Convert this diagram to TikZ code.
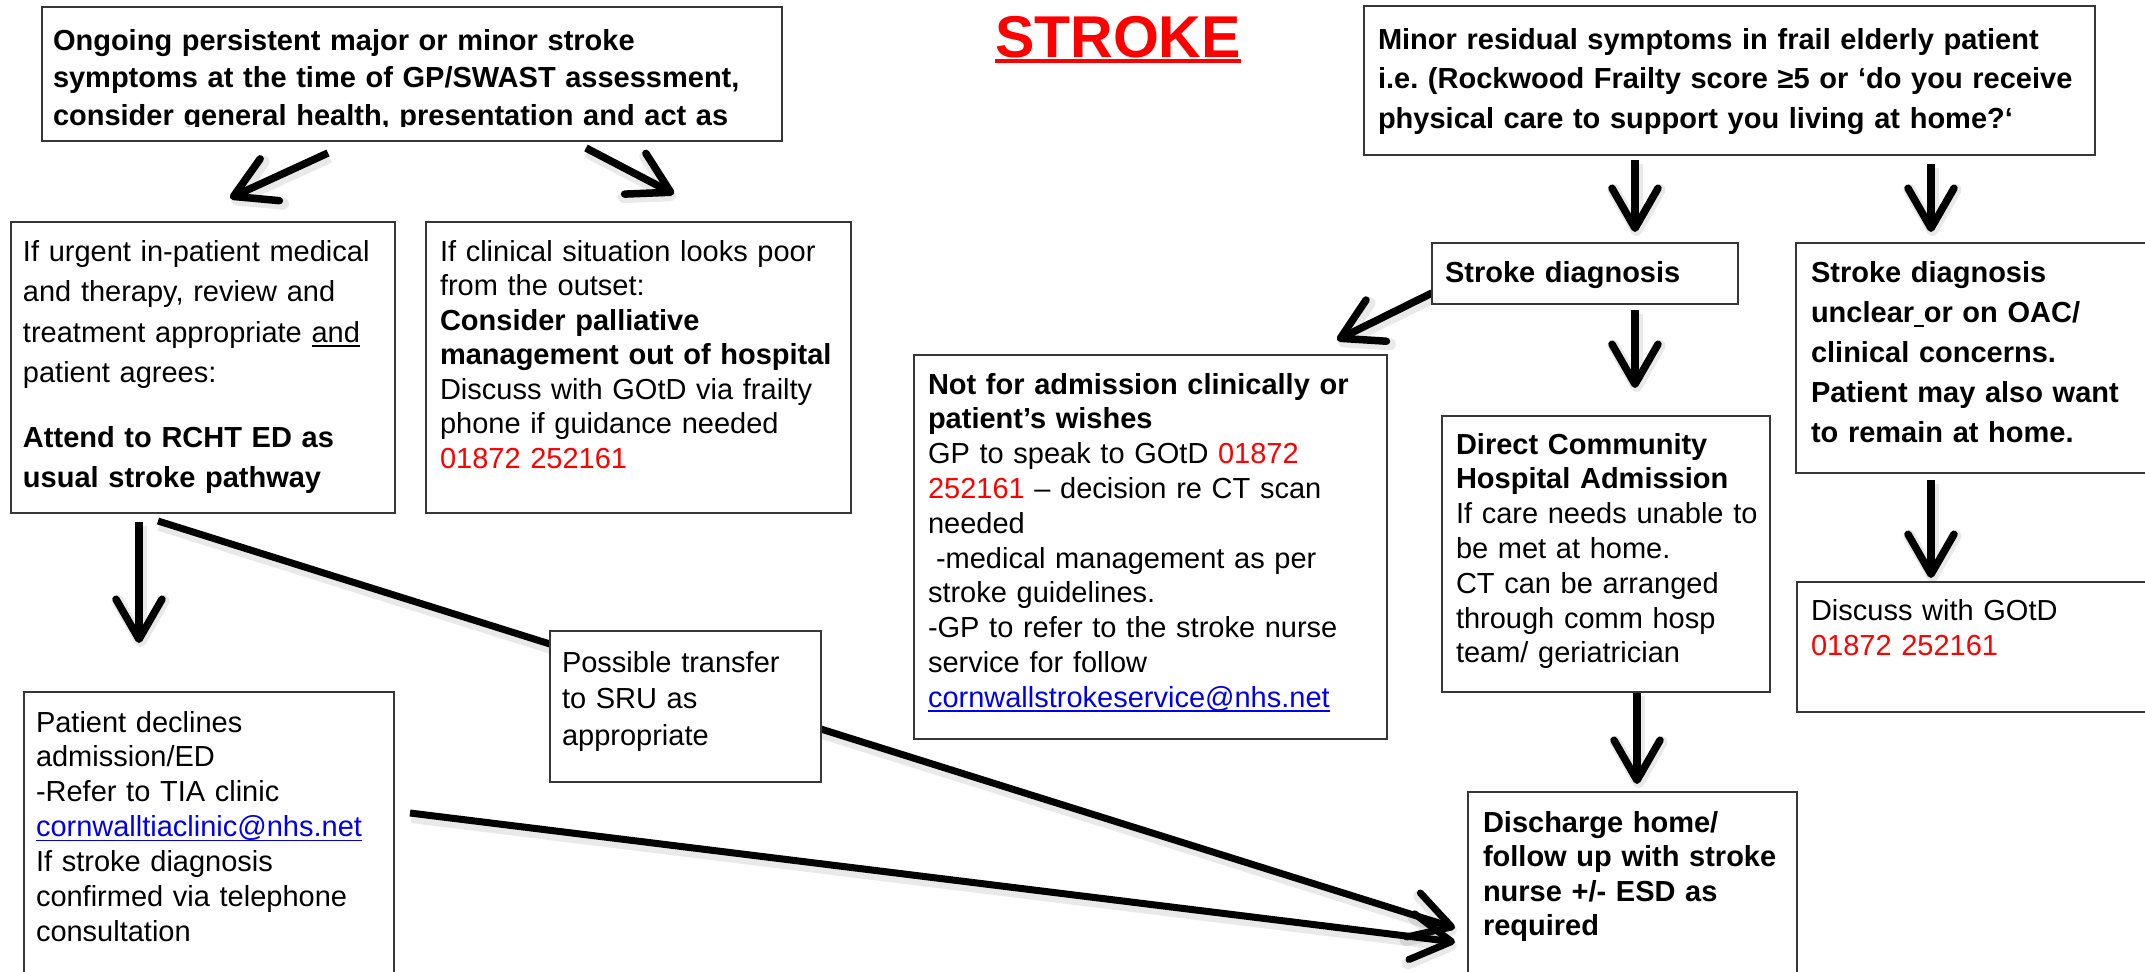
\documentclass[tikz,border=0pt]{standalone}
\usepackage{fontspec}
\setmainfont{Liberation Sans}
\usetikzlibrary{arrows.meta,calc}
\definecolor{rred}{RGB}{255,0,0}
\definecolor{lblue}{RGB}{0,0,238}
\definecolor{edgegray}{RGB}{55,55,55}
\frenchspacing
\newsavebox{\ulbox}
\newcommand{\ulx}[3]{\leavevmode\sbox{\ulbox}{#3}\rlap{\rule[-#2]{\wd\ulbox}{#1}}\usebox{\ulbox}}
\newcommand{\rt}[1]{\textcolor{rred}{#1}}
\newcommand{\lnk}[1]{{\color{lblue}\ulx{1.6pt}{4.5pt}{#1}}}
\newcommand{\thinul}[1]{\ulx{1.6pt}{4.5pt}{#1}}
\newcommand{\fsz}[1]{\fontsize{29}{#1}\selectfont}
\pgfdeclarelayer{back}
\pgfsetlayers{back,main}
\begin{document}
\begin{tikzpicture}[x=1pt,y=-1pt,
  box/.style={draw=edgegray, line width=1.6pt, fill=white, inner sep=0pt, outer sep=0pt, anchor=north west},
  txt/.style={anchor=base west, inner sep=0pt, outer sep=0pt, text width=720pt, align=left},
  shad/.style={preaction={draw=black!70, draw opacity=0.12, line width=12pt, transform canvas={shift={(1.5pt,-4pt)}}}},
  arr/.style={shad, line width=7.5pt, -{Straight Barb[length=40pt,width=46pt,round]}},
  arrlong/.style={shad, line width=7pt, -{Straight Barb[length=40pt,width=46pt,round]}}]
\useasboundingbox (0,0) rectangle (2145,972);
\clip (0,0) rectangle (2145,972);
\begin{pgfonlayer}{back}
\fill[white] (0,0) rectangle (2145,972);
\end{pgfonlayer}

% title
\node[anchor=base, inner sep=0pt, text=rred, font=\fontsize{59}{70}\selectfont\bfseries] (title) at (1118,57) {\ulx{4pt}{6pt}{STROKE}};

% boxes
\node[box, minimum width=740pt, minimum height=134pt] (b1) at (42,7) {};
\begin{scope}
\clip (b1.north west) rectangle ($(b1.south east)+(0,-15)$);
\node[txt, font=\fsz{37.5}\bfseries] (b1t) at (53,50) {Ongoing persistent major or minor stroke\\symptoms at the time of GP/SWAST assessment,\\consider general health, presentation and act as};
\end{scope}

\node[box, minimum width=731pt, minimum height=149pt] (tr) at (1364,6) {};
\node[txt, font=\fsz{39.5}\bfseries] (trt) at (1378,49) {Minor residual symptoms in frail elderly patient\\i.e. (Rockwood Frailty score ≥5 or ‘do you receive\\physical care to support you living at home?‘};

\node[box, minimum width=384pt, minimum height=291pt] (l2) at (11,222) {};
\node[txt, font=\fsz{40.5}] (l2t) at (23,261) {If urgent in-patient medical\\and therapy, review and\\treatment appropriate \thinul{and}\\patient agrees:\\[24pt]\textbf{Attend to RCHT ED as}\\\textbf{usual stroke pathway}};

\node[box, minimum width=425pt, minimum height=291pt] (m2) at (426,222) {};
\node[txt, font=\fsz{34.5}] (m2t) at (440,261) {If clinical situation looks poor\\from the outset:\\\textbf{Consider palliative}\\\textbf{management out of hospital}\\Discuss with GOtD via frailty\\phone if guidance needed\\\rt{01872 252161}};

\node[box, minimum width=306pt, minimum height=61pt] (sd) at (1432,243) {};
\node[txt, font=\fsz{35}\bfseries] (sdt) at (1445,282) {Stroke diagnosis};

\node[box, minimum width=380pt, minimum height=230pt] (unc) at (1796,243) {};
\node[txt, font=\fsz{40}\bfseries] (unct) at (1811,282) {Stroke diagnosis\\unclear\thinul{\ }or on OAC/\\clinical concerns.\\Patient may also want\\to remain at home.};

\node[box, minimum width=473pt, minimum height=384pt] (nfa) at (914,355) {};
\node[txt, font=\fsz{34.8}] (nfat) at (928,394) {\textbf{Not for admission clinically or}\\\textbf{patient’s wishes}\\GP to speak to GOtD \rt{01872}\\\rt{252161} – decision re CT scan\\needed\\\hspace*{8pt}-medical management as per\\stroke guidelines.\\-GP to refer to the stroke nurse\\service for follow\\\lnk{cornwallstrokeservice@nhs.net}};

\node[box, minimum width=328pt, minimum height=276pt] (dir) at (1442,416) {};
\node[txt, font=\fsz{34.8}] (dirt) at (1456,454) {\textbf{Direct Community}\\\textbf{Hospital Admission}\\If care needs unable to\\be met at home.\\CT can be arranged\\through comm hosp\\team/ geriatrician};

\node[box, minimum width=380pt, minimum height=130pt] (disc) at (1797,582) {};
\node[txt, font=\fsz{35}] (disct) at (1811,620) {Discuss with GOtD\\\rt{01872 252161}};

\node[box, minimum width=271pt, minimum height=151pt] (pt) at (550,631) {};
\node[txt, font=\fsz{36.5}] (ptt) at (562,672) {Possible transfer\\to SRU as\\appropriate};

\node[box, minimum width=370pt, minimum height=320pt] (pd) at (24,692) {};
\node[txt, font=\fsz{34.9}] (pdt) at (36,732) {Patient declines\\admission/ED\\-Refer to TIA clinic\\\lnk{cornwalltiaclinic@nhs.net}\\If stroke diagnosis\\confirmed via telephone\\consultation};

\node[box, minimum width=329pt, minimum height=220pt] (dh) at (1468,792) {};
\node[txt, font=\fsz{34.5}\bfseries] (dht) at (1483,832) {Discharge home/\\follow up with stroke\\nurse +/- ESD as\\required};

% connectors
\begin{pgfonlayer}{back}
\draw[arr] ($(b1.south west)+(286,12)$) -- ($(l2.north west)+(219,-24)$);
\draw[arr] ($(b1.south west)+(544,7)$) -- ($(m2.north west)+(248,-28)$);
\draw[arr] ($(tr.south west)+(271,5)$) -- ($(sd.north west)+(203,-11)$);
\draw[arr] ($(tr.south west)+(567,9)$) -- ($(unc.north west)+(135,-11)$);
\draw[arr] ($(sd.south west)+(0,-11)$) -- ($(nfa.north east)+(-50,-15)$);
\draw[arr] ($(sd.south west)+(203,6)$) -- ($(dir.north west)+(193,-28)$);
\draw[arr] ($(unc.south west)+(135,7)$) -- ($(disc.north west)+(134,-4)$);
\draw[arr] ($(dir.south west)+(195,0)$) -- ($(dh.north west)+(169,-8)$);
\draw[arr] ($(l2.south west)+(128,9)$) -- ($(pd.north west)+(115,-49)$);
\draw[arrlong] ($(l2.south west)+(147,8)$) -- ($(dh.north west)+(-13,136)$);
\draw[arrlong] ($(pd.north east)+(16,121)$) -- ($(dh.north west)+(-13,150)$);
\end{pgfonlayer}
\end{tikzpicture}
\end{document}
